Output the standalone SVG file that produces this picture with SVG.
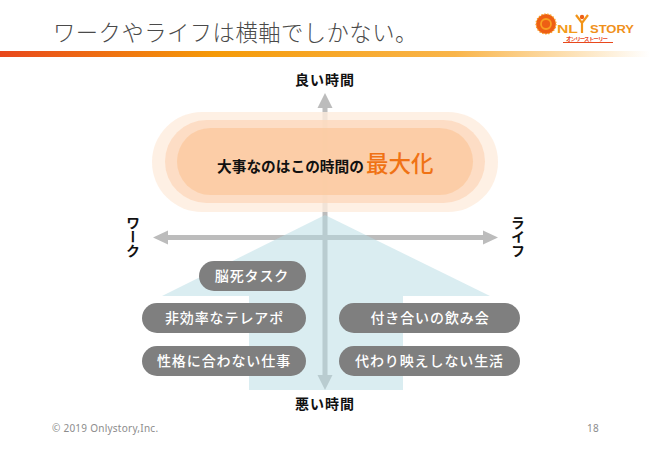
<svg xmlns="http://www.w3.org/2000/svg" width="650" height="450" viewBox="0 0 650 450">
<style>
text{font-family:"Noto Sans CJK JP","Noto Sans",sans-serif}
.lbl{font-size:14px;font-weight:700;fill:#111;text-anchor:middle;letter-spacing:1px}
.vert{writing-mode:vertical-rl;font-size:14px;font-weight:700;fill:#111}
.tag rect{fill:#7f7f7f}
.tag text{font-size:14px;font-weight:500;fill:#fff;text-anchor:middle;letter-spacing:.9px}
.foot{font-family:"Noto Sans",sans-serif;font-size:10px;fill:#8c8c8c;letter-spacing:.25px}
.ax{fill:none;stroke:#bcbcbc;stroke-width:5}
.hd{fill:#bcbcbc}
.mark{font-family:"Liberation Sans",sans-serif;font-size:11.500px;font-weight:700}
</style>
<defs>
<linearGradient id="bar" x1="0" x2="1" y1="0" y2="0">
<stop offset="0" stop-color="#e8481c"/>
<stop offset=".33" stop-color="#f59a08"/>
<stop offset=".7" stop-color="#f9b54a"/>
<stop offset="1" stop-color="#fff"/>
</linearGradient>
</defs>
<rect width="650" height="450" fill="#fff"/>
<text x="53" y="41" font-size="22.300px" font-weight="300" letter-spacing=".5" fill="#4a4a4a">ワークやライフは横軸でしかない。</text>
<rect y="51" width="650" height="6" fill="url(#bar)"/>
<g id="logo">
<!-- sun mark -->
<circle cx="546" cy="24" r="10" fill="#ee5f14"/>
<circle cx="546" cy="24" r="10" fill="none" stroke="#f9a020" stroke-width="1.200" stroke-dasharray="1.500 1.500"/>
<circle cx="546" cy="24" r="5" fill="none" stroke="#f9a020" stroke-width="1.800"/>
<text class="mark" x="557" y="33" fill="#f39a18" textLength="21" lengthAdjust="spacingAndGlyphs">NL</text>
<!-- figure with raised arms -->
<path d="M576 15L582 23L588 15M582 23V33" fill="none" stroke="#f29418" stroke-width="2.200"/>
<circle cx="582" cy="17" r="2.200" fill="#ee5f14"/>
<text class="mark" x="590" y="33" fill="#f0901a" textLength="44" lengthAdjust="spacingAndGlyphs">STORY</text>
<text x="566" y="41" font-size="5.500" font-weight="700" fill="#e8481c" textLength="42">オンリーストーリー</text>
<line x1="563" y1="42.500" x2="613" y2="42.500" stroke="#e8481c"/>
</g>
<g id="connectors">
<path class="ax" d="M325 105V378"/>
<path class="hd" d="M325 93l7.500 15h-15z"/>
<path class="hd" d="M325 390l7.500-15h-15z"/>
<path class="ax" d="M164 237.500H487"/>
<path class="hd" d="M153 237.500l15-7v14z"/>
<path class="hd" d="M498 237.500l-15-7v14z"/>
</g>
<g id="house"><path d="M325 215L490 296H403V390H249V296H162Z" fill="#b5dbe3" fill-opacity=".5"/></g>
<g id="peak">
<rect x="152" y="112" width="346" height="100" rx="50" fill="#feecdd" fill-opacity=".8"/>
<rect x="165" y="120" width="320" height="83" rx="41.500" fill="#fdd8bd" fill-opacity=".8"/>
<rect x="177" y="128" width="296" height="67" rx="33.500" fill="#fbc99f" fill-opacity=".8"/>
<text x="217" y="172" font-size="14.700px" font-weight="700" fill="#111">大事なのはこの時間の<tspan dx="2" font-size="22.500px" fill="#f07214" font-weight="500">最大化</tspan></text>
</g>
<g id="tag1" class="tag"><rect x="199" y="261" width="107" height="30" rx="15"/><text x="252" y="281">脳死タスク</text></g>
<g id="tag2" class="tag"><rect x="142" y="303" width="164" height="30" rx="15"/><text x="224.500" y="323">非効率なテレアポ</text></g>
<g id="tag3" class="tag"><rect x="142" y="346" width="164" height="30" rx="15"/><text x="224" y="366">性格に合わない仕事</text></g>
<g id="tag4" class="tag"><rect x="339" y="303" width="181" height="30" rx="15"/><text x="430" y="323">付き合いの飲み会</text></g>
<g id="tag5" class="tag"><rect x="339" y="346" width="181" height="30" rx="15"/><text x="429.500" y="366">代わり映えしない生活</text></g>
<g id="labels">
<text class="lbl" x="325" y="85">良い時間</text>
<text class="lbl" x="325" y="409">悪い時間</text>
<text class="vert" x="133" y="216">ワーク</text>
<text class="vert" x="518" y="216">ライフ</text>
</g>
<text class="foot" x="52" y="432">© 2019 Onlystory,Inc.</text>
<text class="foot" x="587" y="432">18</text>
</svg>
